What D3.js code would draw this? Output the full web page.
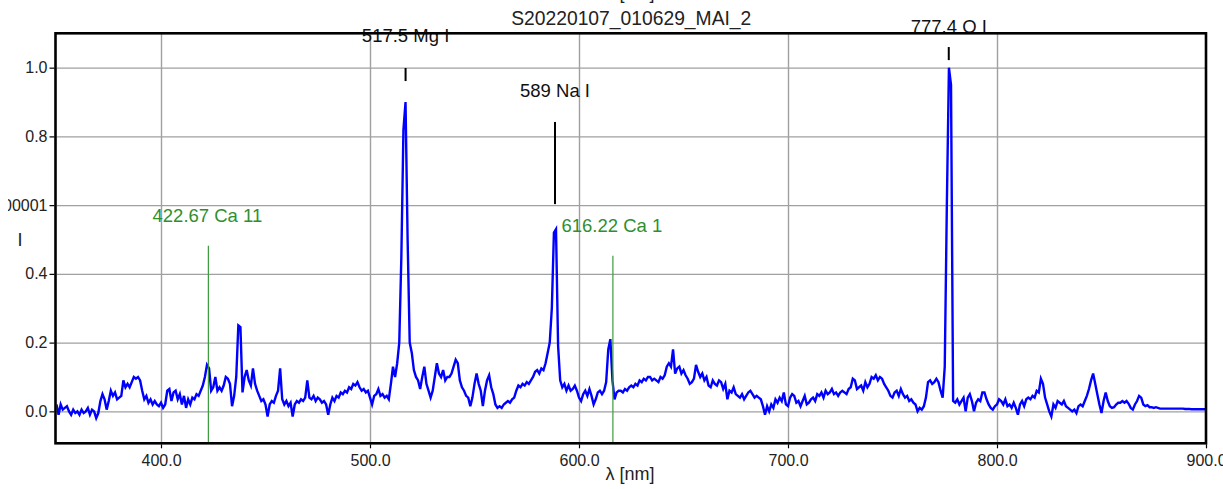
<!DOCTYPE html>
<html>
<head>
<meta charset="utf-8">
<title>S20220107_010629_MAI_2</title>
<script src="https://cdn.jsdelivr.net/npm/d3@7"></script>
<style>
  body { margin: 0; background: #fff; }
  svg { display: block; font-family: "Liberation Sans", Arial, sans-serif; }
  .grid line { stroke: #a0a0a0; stroke-width: 1.4; }
  .grid path { display: none; }
  .ax text { fill: #222; font-size: 16px; }
  .ax line { stroke: #000; stroke-width: 1.2; }
  .ax path { display: none; }
</style>
</head>
<body>
<svg id="chart" width="1223" height="489"></svg>
<script>
// ---- data ----
const title = "S20220107_010629_MAI_2";

const wavelengths = [
 350,351,352,353,354,355,356,357,358,359, 360,361,362,363,364,365,366,367,368,369,
 370,371,372,373,374,375,376,377,378,379, 380,381,382,383,384,385,386,387,388,389,
 390,391,392,393,394,395,396,397,398,399, 400,401,402,403,404,405,406,407,408,409,
 410,411,412,413,414,415,416,417,418,419, 420,421,422,423,424,425,426,427,428,429,
 430,431,432,433,434,435,436,437,438,439, 440,441,442,443,444,445,446,447,448,449,
 450,451,452,453,454,455,456,457,458,459, 460,461,462,463,464,465,466,467,468,469,
 470,471,472,473,474,475,476,477,478,479, 480,481,482,483,484,485,486,487,488,489,
 490,491,492,493,494,495,496,497,498,499, 500,501,502,503,504,505,506,507,508,509,
 510,511,512,513,514,515,516,517,518,519, 520,521,522,523,524,525,526,527,528,529,
 530,531,532,533,534,535,536,537,538,539, 540,541,542,543,544,545,546,547,548,549,
 550,551,552,553,554,555,556,557,558,559, 560,561,562,563,564,565,566,567,568,569,
 570,571,572,573,574,575,576,577,578,579, 580,581,582,583,584,585,586,587,588,589,
 590,591,592,593,594,595,596,597,598,599, 600,601,602,603,604,605,606,607,608,609,
 610,611,612,613,614,615,616,617,618,619, 620,621,622,623,624,625,626,627,628,629,
 630,631,632,633,634,635,636,637,638,639, 640,641,642,643,644,645,646,647,648,649,
 650,651,652,653,654,655,656,657,658,659, 660,661,662,663,664,665,666,667,668,669,
 670,671,672,673,674,675,676,677,678,679, 680,681,682,683,684,685,686,687,688,689,
 690,691,692,693,694,695,696,697,698,699, 700,701,702,703,704,705,706,707,708,709,
 710,711,712,713,714,715,716,717,718,719, 720,721,722,723,724,725,726,727,728,729,
 730,731,732,733,734,735,736,737,738,739, 740,741,742,743,744,745,746,747,748,749,
 750,751,752,753,754,755,756,757,758,759, 760,761,762,763,764,765,766,767,768,769,
 770,771,772,773,774,775,776,777,778,779, 780,781,782,783,784,785,786,787,788,789,
 790,791,792,793,794,795,796,797,798,799, 800,801,802,803,804,805,806,807,808,809,
 810,811,812,813,814,815,816,817,818,819, 820,821,822,823,824,825,826,827,828,829,
 830,831,832,833,834,835,836,837,838,839, 840,841,842,843,844,845,846,847,848,849,
 850,851,852,853,854,855,856,857,858,859, 860,861,862,863,864,865,866,867,868,869,
 870,871,872,873,874,875,876,877,878,879, 880,881,882,883,884,885,886,887,888,889,
 890,891,892,893,894,895,896,897,898,899, 900
];

const intensity = [
 0.02,-0.01,0.02,0.005,0.01,0.015,0.0,-0.01,0.005,-0.005,
 0.0,-0.01,0.005,-0.005,0.0,0.01,-0.01,0.005,0.0,-0.02,
 -0.005,0.03,0.05,0.035,0.005,0.03,0.06,0.045,0.055,0.035,
 0.04,0.045,0.09,0.07,0.08,0.07,0.085,0.1,0.095,0.1,
 0.09,0.06,0.035,0.045,0.025,0.035,0.02,0.03,0.02,0.015,
 0.025,0.01,0.02,0.06,0.065,0.03,0.055,0.06,0.035,0.05,
 0.02,0.045,0.01,0.035,0.02,0.04,0.035,0.05,0.045,0.06,
 0.075,0.1,0.135,0.125,0.06,0.07,0.1,0.06,0.07,0.06,
 0.075,0.1,0.095,0.08,0.015,0.045,0.1,0.25,0.245,0.055,
 0.1,0.12,0.09,0.075,0.125,0.08,0.06,0.045,0.03,0.035,
 0.02,-0.015,0.02,0.03,0.025,0.045,0.06,0.125,0.035,0.02,
 0.03,0.015,0.025,-0.015,0.02,0.03,0.025,0.035,0.03,0.04,
 0.09,0.04,0.035,0.045,0.03,0.04,0.035,0.025,0.03,0.02,
 -0.01,0.02,0.04,0.03,0.045,0.04,0.055,0.05,0.06,0.055,
 0.07,0.065,0.08,0.075,0.085,0.07,0.06,0.065,0.055,0.06,
 0.04,0.02,0.045,0.05,0.065,0.045,0.05,0.04,0.045,0.035,
 0.08,0.13,0.1,0.14,0.2,0.45,0.82,0.9,0.5,0.2,
 0.17,0.12,0.1,0.09,0.065,0.1,0.13,0.08,0.06,0.04,
 0.06,0.1,0.14,0.11,0.1,0.12,0.09,0.1,0.1,0.11,
 0.13,0.15,0.14,0.09,0.07,0.06,0.045,0.04,0.015,0.04,
 0.08,0.11,0.08,0.06,0.015,0.06,0.09,0.105,0.07,0.05,
 0.02,0.01,0.015,0.01,0.02,0.025,0.03,0.025,0.035,0.04,
 0.06,0.075,0.07,0.08,0.075,0.085,0.08,0.09,0.1,0.115,
 0.12,0.11,0.125,0.12,0.14,0.17,0.2,0.3,0.52,0.53,
 0.19,0.09,0.07,0.08,0.06,0.075,0.06,0.065,0.075,0.06,
 0.04,0.03,0.05,0.06,0.045,0.065,0.045,0.02,0.035,0.055,
 0.06,0.05,0.06,0.085,0.18,0.21,0.09,0.035,0.055,0.06,
 0.06,0.055,0.065,0.06,0.07,0.075,0.07,0.08,0.075,0.09,
 0.085,0.095,0.09,0.1,0.1,0.09,0.095,0.09,0.085,0.1,
 0.095,0.105,0.13,0.14,0.13,0.18,0.11,0.125,0.13,0.11,
 0.12,0.105,0.095,0.08,0.085,0.095,0.135,0.115,0.1,0.11,
 0.09,0.1,0.075,0.07,0.09,0.08,0.075,0.09,0.085,0.065,
 0.08,0.035,0.06,0.055,0.07,0.05,0.045,0.04,0.05,0.035,
 0.045,0.055,0.06,0.05,0.04,0.045,0.04,0.035,0.015,-0.01,
 0.015,0.0,0.02,0.01,0.035,0.025,0.04,0.03,0.055,0.02,
 0.015,0.04,0.05,0.045,0.025,0.03,0.015,0.03,0.045,0.02,
 0.025,0.035,0.04,0.03,0.05,0.045,0.055,0.04,0.06,0.05,
 0.055,0.065,0.05,0.055,0.045,0.055,0.06,0.055,0.05,0.065,
 0.07,0.095,0.09,0.065,0.07,0.075,0.06,0.085,0.07,0.08,
 0.1,0.095,0.105,0.09,0.1,0.095,0.08,0.07,0.06,0.045,
 0.04,0.055,0.06,0.045,0.065,0.05,0.04,0.045,0.03,0.035,
 0.025,0.02,0.0,0.01,0.005,0.015,0.04,0.085,0.09,0.08,
 0.085,0.095,0.085,0.06,0.04,0.13,0.6,1.0,0.95,0.03,
 0.025,0.035,0.02,0.03,0.04,0.0,0.04,0.05,0.03,0.0,
 0.025,0.035,0.03,0.055,0.055,0.035,0.02,0.01,0.005,0.015,
 0.02,0.035,0.03,0.02,0.035,0.015,0.02,0.01,0.025,0.01,
 -0.01,0.02,0.03,0.015,0.035,0.04,0.035,0.045,0.04,0.06,
 0.055,0.095,0.08,0.04,0.02,0.0,-0.015,0.02,0.01,0.03,
 0.025,0.02,0.03,0.015,0.01,0.005,0.0,0.005,-0.005,0.015,
 0.02,0.015,0.03,0.045,0.065,0.09,0.11,0.08,0.05,0.02,
 -0.005,0.03,0.055,0.03,0.015,0.01,0.012,0.02,0.025,0.025,
 0.03,0.025,0.03,0.022,0.01,0.005,0.02,0.03,0.045,0.04,
 0.02,0.015,0.018,0.012,0.012,0.01,0.012,0.01,0.008,0.008,
 0.008,0.008,0.008,0.008,0.008,0.008,0.008,0.008,0.008,0.008,
 0.007,0.007,0.007,0.006,0.006,0.006,0.006,0.006,0.006,0.006,
 0.006
];

const xTicks = [400, 500, 600, 700, 800, 900];
const xTickLabels = ["400.0", "500.0", "600.0", "700.0", "800.0", "900.0"];
const yTicks = [0, 0.2, 0.4, 0.6, 0.8, 1.0];
const yTickLabels = ["0.0", "0.2", "0.4", "0.600001", "0.8", "1.0"];

// marked emission lines (black) and reference lines (green)
const markLabels = ["517.5 Mg I", "589 Na I", "777.4 O I"];
const markLambda = [517.5, 589, 777.4];
const refLabels = ["422.67 Ca 11", "616.22 Ca 1"];
const refLambda = [422.67, 616.22];

// ---- layout ----
const svg = d3.select("#chart");
const mLeft = 56.5, mRight = 1206, mTop = 33.3, mBottom = 443.3;

const x = d3.scaleLinear().domain([350, 900]).range([mLeft, mRight]);
const y = d3.scaleLinear().domain([-0.093, 1.1]).range([mBottom, mTop]);

svg.append("clipPath").attr("id", "plot")
  .append("rect").attr("x", mLeft).attr("y", mTop)
  .attr("width", mRight - mLeft).attr("height", mBottom - mTop);
svg.append("clipPath").attr("id", "ylab")
  .append("rect").attr("x", 8).attr("y", 0).attr("width", 60).attr("height", 489);

// grid
svg.append("g").attr("class", "grid")
  .attr("transform", "translate(0," + mBottom + ")")
  .call(d3.axisBottom(x).tickValues([400, 500, 600, 700, 800]).tickSize(-(mBottom - mTop)).tickFormat(""));
svg.append("g").attr("class", "grid")
  .attr("transform", "translate(" + mLeft + ",0)")
  .call(d3.axisLeft(y).tickValues(yTicks).tickSize(-(mRight - mLeft)).tickFormat(""));

// spectrum
const line = d3.line().x((d, i) => x(wavelengths[i])).y(d => y(d));
svg.append("path")
  .datum(intensity)
  .attr("clip-path", "url(#plot)")
  .attr("fill", "none")
  .attr("stroke", "#0000ff")
  .attr("stroke-width", 2.4)
  .attr("stroke-linejoin", "miter")
  .attr("d", line);

// reference lines (green)
const refTop = [0.482, 0.453];
const refText = [0.552, 0.523];
refLambda.forEach((l, i) => {
  svg.append("line")
    .attr("x1", x(l)).attr("x2", x(l))
    .attr("y1", y(refTop[i])).attr("y2", mBottom)
    .attr("stroke", "#3c9a3c").attr("stroke-width", 1.2);
  svg.append("text")
    .attr("x", x(l) - 1).attr("y", y(refText[i]))
    .attr("text-anchor", "middle")
    .attr("fill", "#2e8f2e")
    .style("font-size", "18.5px")
    .text(refLabels[i]);
});

// marked lines (black)
const markY1 = [0.999, 0.842, 1.06];
const markY2 = [0.961, 0.603, 1.022];
const markText = [1.075, 0.916, 1.1];
markLambda.forEach((l, i) => {
  svg.append("line")
    .attr("x1", x(l) - 1).attr("x2", x(l) - 1)
    .attr("y1", y(markY1[i])).attr("y2", y(markY2[i]))
    .attr("stroke", "#000").attr("stroke-width", 2);
  svg.append("text")
    .attr("x", x(l) - 1).attr("y", y(markText[i]))
    .attr("text-anchor", "middle")
    .attr("fill", "#111")
    .style("font-size", "18.5px")
    .text(markLabels[i]);
});

// frame
svg.append("rect")
  .attr("x", mLeft - 1).attr("y", mTop)
  .attr("width", mRight - mLeft + 1).attr("height", mBottom - mTop)
  .attr("fill", "none").attr("stroke", "#000").attr("stroke-width", 2.6);

// axes
svg.append("g").attr("class", "ax")
  .attr("transform", "translate(0," + (mBottom + 1) + ")")
  .call(d3.axisBottom(x).tickValues(xTicks).tickSize(4).tickPadding(6)
    .tickFormat((d, i) => xTickLabels[i]));
svg.append("g")
  .attr("clip-path", "url(#ylab)")
  .append("g").attr("class", "ax")
  .attr("transform", "translate(" + (mLeft - 2) + ",0)")
  .call(d3.axisLeft(y).tickValues(yTicks).tickSize(5).tickPadding(2)
    .tickFormat((d, i) => yTickLabels[i]));

// titles
svg.append("text")
  .attr("x", 637).attr("y", -1)
  .attr("text-anchor", "middle").attr("fill", "#222")
  .style("font-size", "18px").text("[a.u]");
svg.append("text")
  .attr("x", (mLeft + mRight) / 2).attr("y", 25)
  .attr("text-anchor", "middle").attr("fill", "#222")
  .style("font-size", "19.3px").text(title);
svg.append("text")
  .attr("x", 630).attr("y", 480)
  .attr("text-anchor", "middle").attr("fill", "#222")
  .style("font-size", "18px").text("λ [nm]");
svg.append("text")
  .attr("x", 20).attr("y", 246)
  .attr("text-anchor", "middle").attr("fill", "#222")
  .style("font-size", "18px").text("I");
</script>
</body>
</html>
